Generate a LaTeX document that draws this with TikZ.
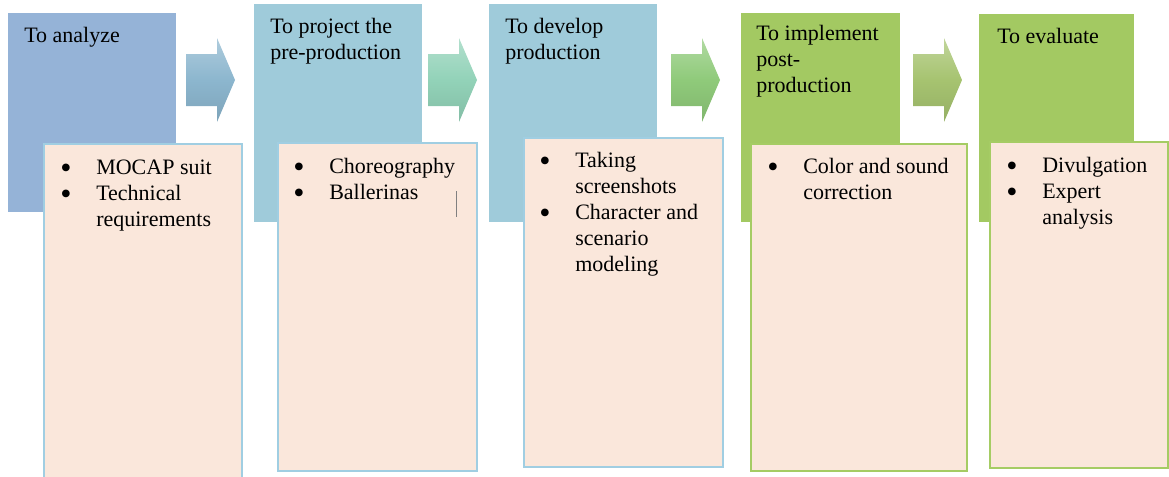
\documentclass[tikz,border=0pt]{standalone}
\usepackage{fontspec}
\setmainfont{Liberation Serif}
\newfontfamily\boxfont{Liberation Serif}
\usepackage{tikz}
\usetikzlibrary{calc}
\definecolor{stblue}{RGB}{149,179,215}
\definecolor{staqua}{RGB}{159,203,218}
\definecolor{stolive}{RGB}{163,201,98}
\definecolor{peach}{RGB}{250,231,219}
\definecolor{lnaqua}{RGB}{160,206,226}
\definecolor{lnolive}{RGB}{165,204,100}
\definecolor{arrA}{RGB}{140,182,206}
\definecolor{arrB}{RGB}{146,210,184}
\definecolor{arrC}{RGB}{143,202,122}
\definecolor{arrD}{RGB}{166,195,112}
\newlength\px \setlength\px{0.75pt}
\newcommand{\lines}[1]{\begin{tabular}[t]{@{}l@{}}#1\end{tabular}}
\newcommand{\bulls}[1]{\begin{tabular}[t]{@{}p{36\px}@{}l@{}}#1\end{tabular}}
\newcommand{\bul}{\raisebox{-3.6pt}[0pt][0pt]{\fontsize{24}{24}\selectfont\textbullet}}
\tikzset{stage/.style={rectangle, anchor=north west, inner sep=0, draw=none},
tasks/.style={rectangle, anchor=north west, inner sep=0, fill=peach, line width=1.2pt},
title/.style={anchor=base west, inner sep=0},
items/.style={anchor=base west, inner sep=0}}

\begin{document}
\begin{tikzpicture}[x=1\px,y=-1\px,font=\boxfont\fontsize{16.5}{19.5}\selectfont]
\useasboundingbox (0,0) rectangle (1169,476);
% the five stages
\node[stage, fill=stblue, minimum width=168\px, minimum height=199\px] (s1) at (8,13) {};
\node[stage, fill=staqua, minimum width=168\px, minimum height=218\px] (s2) at (254,4) {};
\node[stage, fill=staqua, minimum width=168\px, minimum height=218\px] (s3) at (489,4) {};
\node[stage, fill=stolive, minimum width=159\px, minimum height=209\px] (s4) at (741,13) {};
\node[stage, fill=stolive, minimum width=155\px, minimum height=208\px] (s5) at (979,14) {};
\node[title] (t1) at ($(s1.north west)+(16,29)$) {\lines{To analyze}};
\node[title] (t2) at ($(s2.north west)+(16,29)$) {\lines{To project the\\pre-production}};
\node[title] (t3) at ($(s3.north west)+(16,29)$) {\lines{To develop\\production}};
\node[title] (t4) at ($(s4.north west)+(15,27)$) {\lines{To implement\\post-\\production}};
\node[title] (t5) at ($(s5.north west)+(18,29)$) {\lines{To evaluate}};
% arrows between stages
\foreach \x/\c in {186/arrA, 428/arrB, 671/arrC, 913/arrD}
\shade[top color=\c!70!white, bottom color=\c!90!black, middle color=\c] (\x,54) -- ++(31,0) -- ++(0,-16) -- ++(18,42) -- ++(-18,42) -- ++(0,-16) -- ++(-31,0) -- cycle;
% task lists
\node[tasks, draw=lnaqua, minimum width=198\px, minimum height=334\px] (b1) at (43,143) {};
\node[tasks, draw=lnaqua, minimum width=199\px, minimum height=328\px] (b2) at (277,142) {};
\node[tasks, draw=lnaqua, minimum width=199\px, minimum height=329\px] (b3) at (523,137) {};
\node[tasks, draw=lnolive, minimum width=216\px, minimum height=327\px] (b4) at (750,143) {};
\node[tasks, draw=lnolive, minimum width=178\px, minimum height=326\px] (b5) at (989,141) {};
\node[items] (l1) at ($(b1.north west)+(17,31)$) {\bulls{\bul & MOCAP suit\\ \bul & Technical\\ & requirements}};
\node[items] (l2) at ($(b2.north west)+(16,31)$) {\bulls{\bul & Choreography\\ \bul & Ballerinas}};
\node[items] (l3) at ($(b3.north west)+(16,30)$) {\bulls{\bul & Taking\\ & screenshots\\ \bul & Character and\\ & scenario\\ & modeling}};
\node[items] (l4) at ($(b4.north west)+(17,30)$) {\bulls{\bul & Color and sound\\ & correction}};
\node[items] (l5) at ($(b5.north west)+(17,31)$) {\bulls{\bul & Divulgation\\ \bul & Expert\\ & analysis}};
\draw[gray, line width=0.6pt] (456,191) -- (456,217);
\end{tikzpicture}
\end{document}
